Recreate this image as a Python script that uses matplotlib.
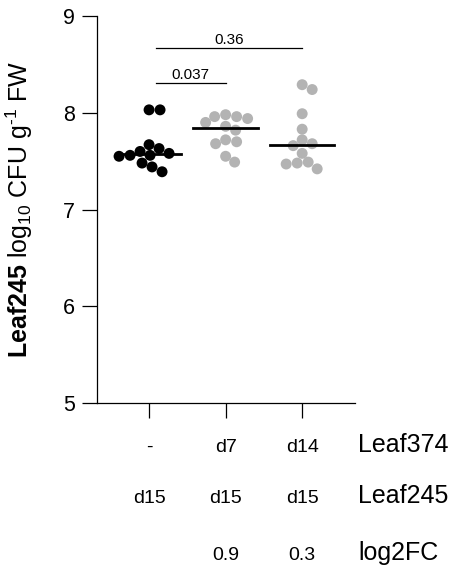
import matplotlib
matplotlib.use("Agg")
import matplotlib.pyplot as plt
import numpy as np

plt.rcParams['font.family'] = ['Liberation Sans', 'DejaVu Sans']
plt.rcParams['mathtext.fontset'] = 'custom'
plt.rcParams['mathtext.rm'] = 'Liberation Sans'
plt.rcParams['mathtext.bf'] = 'Liberation Sans:bold'
plt.rcParams['mathtext.it'] = 'Liberation Sans:italic'

# data (log10 CFU per g FW)
ctrl = [8.03, 8.03, 7.67, 7.63, 7.60, 7.58, 7.56, 7.56, 7.55, 7.48, 7.44, 7.39]
pre_d7 = [7.98, 7.96, 7.96, 7.94, 7.90, 7.86, 7.82, 7.72, 7.70, 7.68, 7.55, 7.49]
pre_d14 = [8.29, 8.24, 7.99, 7.83, 7.72, 7.68, 7.66, 7.58, 7.49, 7.48, 7.47, 7.42]
groups = [ctrl, pre_d7, pre_d14]
colors = ['black', '#b3b3b3', '#b3b3b3']

# table under the plot
leaf374 = ['-', 'd7', 'd14']
leaf245 = ['d15', 'd15', 'd15']
log2fc = ['', '0.9', '0.3']
row_names = ['Leaf374', 'Leaf245', 'log2FC']

# comparisons: (group a, group b, p value)
comparisons = [(0, 1, '0.037'), (0, 2, '0.36')]
bar_heights = [8.31, 8.67]


def swarm(values, xc, ax, min_dist):
    # place points one by one at the free x offset nearest the centre (pixel space)
    pts = ax.transData.transform(np.column_stack([np.full(len(values), xc), values]))
    placed = []
    for px, py in pts:
        best = None
        for k in range(0, 60):
            for sgn in ([0] if k == 0 else [1, -1]):
                cand = px + sgn * k * 1.0
                if all((cand - qx) ** 2 + (py - qy) ** 2 >= min_dist ** 2 for qx, qy in placed):
                    best = cand
                    break
            if best is not None:
                break
        placed.append((best, py))
    return ax.transData.inverted().transform(np.array(placed))


fig = plt.figure(figsize=(4.58, 5.72), dpi=100)
ax = fig.add_axes([97 / 458, 1 - 403 / 572, 258 / 458, 387 / 572])
ax.set_xlim(-0.68, 2.69)
ax.set_ylim(5, 9)

for i, vals in enumerate(groups):
    xy = swarm(vals, i, ax, 10.5)
    ax.scatter(xy[:, 0], xy[:, 1], s=62, color=colors[i], edgecolors='none', zorder=3, clip_on=False)
    med = np.median(vals)
    ax.plot([i - 0.42, i + 0.42], [med, med], color='black', lw=2, zorder=4)

for (a, b, p), h in zip(comparisons, bar_heights):
    ax.plot([a + 0.09, b], [h, h], color='black', lw=0.9, clip_on=False)
    ax.annotate(p, xy=((a + 0.09 + b) / 2, h), xytext=(0, 3), textcoords='offset points',
                ha='center', va='baseline', fontsize=11, annotation_clip=False)

ax.spines['top'].set_visible(False)
ax.spines['right'].set_visible(False)
ax.spines['left'].set_linewidth(0.9)
ax.spines['bottom'].set_linewidth(0.9)
ax.set_yticks([5, 6, 7, 8, 9])
ax.set_xticks([0, 1, 2])
ax.set_xticklabels([])
ax.tick_params(axis='both', length=11, width=0.9, labelsize=15.5)
ax.tick_params(axis='y', pad=5)

ax.set_ylabel(r"$\mathbf{Leaf245}$ log$_{10}$ CFU g$^{\text{-}1}$ FW", fontsize=18)
ax.yaxis.set_label_coords(-0.24, 0.5)

trans = ax.get_xaxis_transform()
rows = [leaf374, leaf245, log2fc]
row_y = [-0.1266, -0.2584, -0.4057]
for labels, y, name in zip(rows, row_y, row_names):
    for i, lab in enumerate(labels):
        ax.text(i, y, lab, transform=trans, ha='center', va='baseline', fontsize=14, clip_on=False)
    ax.text(2.73, y, name, transform=trans, ha='left', va='baseline', fontsize=18, clip_on=False)

fig.savefig('out.png', dpi=100)
